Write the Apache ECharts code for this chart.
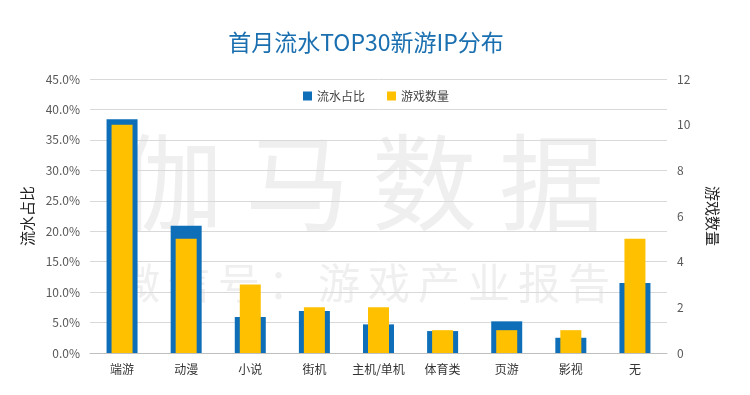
<!DOCTYPE html>
<html><head><meta charset="utf-8">
<script src="https://cdn.jsdelivr.net/npm/echarts@6/dist/echarts.min.js"></script>
<style>html,body{margin:0;padding:0;background:#fff}#c{width:750px;height:395px}</style>
</head><body><div id="c"></div>
<script>
const categories = ['端游','动漫','小说','街机','主机/单机','体育类','页游','影视','无'];
const shareValues = [38.4, 20.9, 5.9, 6.9, 4.7, 3.6, 5.2, 2.5, 11.5];
const countValues = [10, 5, 3, 2, 2, 1, 1, 1, 5];
const seriesNames = ['流水占比','游戏数量'];
const titleText = '首月流水TOP30新游IP分布';
const leftAxisName = '流水占比';
const rightAxisName = '游戏数量';
const wmBig = ['伽','马','数','据'];
const wmSmall = ['微','信','号','：','游','戏','产','业','报','告'];

const font = '"Noto Sans CJK SC", "Microsoft YaHei", sans-serif';
const chart = echarts.init(document.getElementById('c'));
const wmColor = 'rgba(190,190,190,0.25)';
const graphics = [];
wmBig.forEach((ch, i) => graphics.push({type:'text', z:-10, left: 118 + i*127, top: 130,
  style:{text: ch, font: '105px ' + font, fill: wmColor}}));
wmSmall.forEach((ch, i) => graphics.push({type:'text', z:-10, left: 118 + i*50, top: 262,
  style:{text: ch, font: '42px ' + font, fill: wmColor}}));

chart.setOption({
  animation: false,
  textStyle: {fontFamily: font},
  title: {text: titleText, left: 361, textAlign: 'center', top: 26,
    textStyle: {color: '#1a6fb0', fontSize: 23, fontWeight: 'normal', fontFamily: font}},
  legend: {data: seriesNames, top: 85, left: 298, itemWidth: 9, itemHeight: 9, itemGap: 22,
    icon: 'rect', textStyle: {color: '#444', fontSize: 12}},
  graphic: graphics,
  grid: {left: 90, right: 83, top: 79, bottom: 42},
  xAxis: [
    {type: 'category', data: categories,
     axisLine: {lineStyle: {color: '#bfbfbf'}}, axisTick: {show: false},
     axisLabel: {color: '#333', fontSize: 12, margin: 10, interval: 0}},
    {type: 'category', data: categories, show: false}
  ],
  yAxis: [
    {type: 'value', min: 0, max: 45, interval: 5, name: leftAxisName, nameLocation: 'middle', nameGap: 55,
     nameRotate: 90, nameTextStyle: {color: '#222', fontSize: 15},
     axisLabel: {formatter: v => v.toFixed(1) + '%', color: '#595959', fontSize: 12, margin: 10},
     splitLine: {lineStyle: {color: '#d9d9d9'}}, axisLine: {show: false}, axisTick: {show: false}},
    {type: 'value', min: 0, max: 12, interval: 2, name: rightAxisName, nameLocation: 'middle', nameGap: 38,
     nameRotate: -90, nameTextStyle: {color: '#222', fontSize: 15},
     axisLabel: {color: '#595959', fontSize: 12, margin: 10},
     splitLine: {show: false}, axisLine: {show: false}, axisTick: {show: false}}
  ],
  series: [
    {name: seriesNames[0], type: 'bar', xAxisIndex: 0, yAxisIndex: 0, data: shareValues, barWidth: 31,
     itemStyle: {color: '#0e6eb8'}, z: 2},
    {name: seriesNames[1], type: 'bar', xAxisIndex: 1, yAxisIndex: 1, data: countValues, barWidth: 21,
     itemStyle: {color: '#ffc000'}, z: 3}
  ]
});
</script></body></html>
